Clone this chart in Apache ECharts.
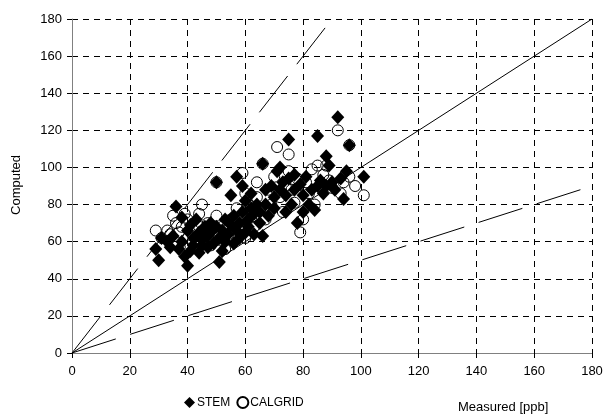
<!DOCTYPE html>
<html><head><meta charset="utf-8">
<script src="https://cdn.jsdelivr.net/npm/echarts@6/dist/echarts.min.js"></script>
<style>html,body{margin:0;padding:0;background:#fff}#c{width:608px;height:415px}</style>
</head><body><div id="c"></div>
<script>
const xTicks = [0,20,40,60,80,100,120,140,160,180];
const yTicks = [0,20,40,60,80,100,120,140,160,180];
const stem = [[30,50],[29,56],[31,62],[33,60],[34,57],[35,63],[36,79],[37,56],[38,73],[38,60],[39,52],[40,47],[40,66],[41,55],[41,69],[42,58],[42,62],[43,72],[44,54],[44,65],[45,58],[45,61],[46,68],[47,57],[47,63],[48,65],[48,70],[49,59],[50,92],[50,68],[51,49],[51,62],[52,55],[52,66],[53,60],[53,72],[54,64],[55,69],[55,85],[56,59],[56,74],[57,95],[57,66],[58,70],[58,62],[59,90],[59,76],[60,65],[60,82],[61,72],[61,68],[62,78],[62,86],[63,64],[63,75],[64,80],[65,70],[65,76],[66,102],[66,63],[67,88],[67,80],[68,74],[69,90],[70,84],[70,78],[71,98],[72,100],[72,88],[73,92],[74,85],[74,76],[75,115],[75,94],[76,80],[77,96],[77,88],[78,70],[79,91],[80,85],[80,76],[81,95],[82,80],[83,88],[84,77],[85,117],[85,90],[86,93],[87,86],[88,106],[88,90],[89,101],[90,92],[91,88],[92,127],[93,94],[95,98],[94,83],[96,112],[101,95]];
const calgrid = [[29,66],[31,62],[33,66],[34,64],[35,74],[36,70],[37,65],[38,68],[39,75],[40,62],[40,72],[41,58],[42,66],[43,60],[44,75],[44,68],[45,80],[46,63],[47,70],[48,58],[49,66],[50,92],[50,74],[51,61],[52,68],[53,56],[54,64],[55,72],[56,66],[57,78],[58,68],[59,97],[59,74],[60,62],[60,86],[61,80],[62,73],[63,68],[64,92],[64,84],[65,77],[66,102],[67,72],[68,88],[69,80],[70,95],[71,111],[72,84],[73,76],[74,90],[75,107],[75,98],[76,88],[77,81],[78,94],[79,65],[80,72],[81,92],[82,86],[83,99],[84,80],[85,101],[86,90],[87,96],[88,101],[89,93],[90,89],[92,120],[93,86],[94,92],[96,112],[96,95],[101,85],[98,90]];
const line11 = [[0,0],[180,180]];
const line2x = [[0,0],[90,180]];
const lineHalf = [[0,0],[180,90]];

const chart = echarts.init(document.getElementById('c'), null, {renderer:'canvas'});
const font = 'Liberation Sans, Arial, sans-serif';
const axisCommon = {
  type:'value', min:0, max:180, interval:20,
  axisLine:{show:true, onZero:false, lineStyle:{color:'#808080', width:1}},
  axisTick:{show:true, length:5, lineStyle:{color:'#000'}},
  axisLabel:{color:'#000', fontSize:13, fontFamily:font},
  splitLine:{show:true, lineStyle:{color:'#000', type:[6,5], width:1}}
};
const lineSeries = (d, dash) => ({type:'line', data:d, symbol:'none', silent:true, z:1,
  lineStyle:{color:'#000', width:1, type: dash ? [46,15] : 'solid'}, animation:false});
chart.setOption({
  animation:false,
  grid:{left:72, right:16, top:19, bottom:62},
  xAxis:Object.assign({}, axisCommon, {axisLabel:{color:'#000', fontSize:13, fontFamily:font, margin:12}}),
  yAxis:Object.assign({}, axisCommon, {axisLabel:{color:'#000', fontSize:13, fontFamily:font, margin:10}}),
  legend:{data:['STEM','CALGRID'], left:179, top:391, itemWidth:11, itemHeight:11, itemGap:6,
    textStyle:{color:'#000', fontSize:12, fontFamily:font, padding:[0,0,0,-3]}},
  graphic:[
    {type:'text', left:458, top:401, style:{text:'Measured [ppb]', font:'13px '+font, fill:'#000'}},
    {type:'text', x:16, y:185, rotation:Math.PI/2, style:{text:'Computed', font:'13px '+font, fill:'#000', align:'center', verticalAlign:'middle'}}
  ],
  series:[
    lineSeries(line11,false), lineSeries(line2x,true), lineSeries(lineHalf,true),
    {name:'CALGRID', type:'scatter', data:calgrid, symbol:'circle', symbolSize:11, z:2,
      itemStyle:{color:'rgba(255,255,255,0)', borderColor:'#000', borderWidth:1, opacity:1}},
    {name:'STEM', type:'scatter', data:stem, symbol:'diamond', symbolSize:[13,14], z:3,
      itemStyle:{color:'#000', opacity:1}}
  ]
});
</script></body></html>
